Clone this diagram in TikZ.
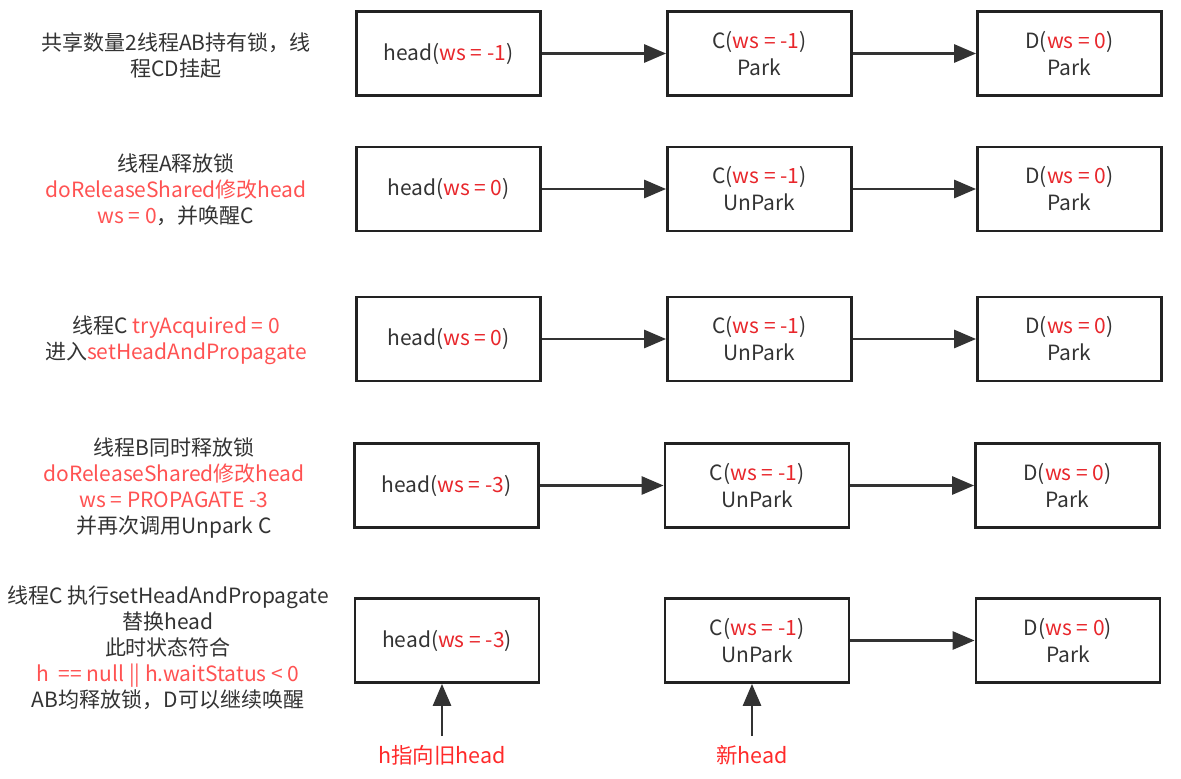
\documentclass[tikz,border=0pt]{standalone}
\usepackage{fontspec}
\setmainfont{Noto Sans CJK SC}
\usetikzlibrary{arrows.meta}
\definecolor{txt}{HTML}{333333}
\definecolor{bred}{HTML}{E8262B}
\definecolor{lred}{HTML}{FF5252}
\definecolor{labred}{HTML}{FF2A2A}
\definecolor{edge}{HTML}{222222}
\newcommand{\rr}[1]{\textcolor{bred}{#1}}
\newcommand{\lr}[1]{\textcolor{lred}{#1}}
\begin{document}
\begin{tikzpicture}[x=1pt,y=-1pt,
  nodebox/.style={draw=edge,line width=2.8pt,minimum width=184pt,minimum height=84pt,
    inner sep=0pt,align=center,text=txt,font=\fontsize{21}{27}\selectfont},
  lefttext/.style={align=center,text=txt,font=\fontsize{21}{26}\selectfont,inner sep=0pt},
  arr/.style={line width=2.8pt,draw=txt,-{Triangle[length=22pt,width=18pt]}},
  lab/.style={text=labred,font=\fontsize{21.5}{26}\selectfont,inner sep=0pt}]
\useasboundingbox (0,0) rectangle (1181,779);
% row 1
\node[lefttext] (l1) at (176,56) {共享数量2线程AB持有锁，线\\程CD挂起};
\node[nodebox] (a1) at (448.5,53.5) {head(\rr{ws = -1})};
\node[nodebox] (b1) at (759.5,53.5) {C(\rr{ws = -1})\\Park};
\node[nodebox] (c1) at (1069.5,53.5) {D(\rr{ws = 0})\\Park};
% row 2
\node[lefttext] (l2) at (176,190) {线程A释放锁\\\lr{doReleaseShared修改head}\\\lr{ws = 0}，并唤醒C};
\node[nodebox] (a2) at (448.5,189) {head(\rr{ws = 0})};
\node[nodebox] (b2) at (759.5,189) {C(\rr{ws = -1})\\UnPark};
\node[nodebox] (c2) at (1069.5,189) {D(\rr{ws = 0})\\Park};
% row 3
\node[lefttext] (l3) at (176,340) {线程C \lr{tryAcquired = 0}\\进入\lr{setHeadAndPropagate}};
\node[nodebox] (a3) at (448.5,339) {head(\rr{ws = 0})};
\node[nodebox] (b3) at (759.5,339) {C(\rr{ws = -1})\\UnPark};
\node[nodebox] (c3) at (1069.5,339) {D(\rr{ws = 0})\\Park};
% row 4
\node[lefttext] (l4) at (174,488) {线程B同时释放锁\\\lr{doReleaseShared修改head}\\\lr{ws = PROPAGATE -3}\\并再次调用Unpark C};
\node[nodebox] (a4) at (446.5,485.5) {head(\rr{ws = -3})};
\node[nodebox] (b4) at (757,485.5) {C(\rr{ws = -1})\\UnPark};
\node[nodebox] (c4) at (1067.5,485.5) {D(\rr{ws = 0})\\Park};
% row 5
\node[lefttext] (l5) at (168,648) {线程C 执行setHeadAndPropagate\\替换head\\此时状态符合\\\lr{h\ \ == null || h.waitStatus < 0}\\AB均释放锁，D可以继续唤醒};
\node[nodebox] (a5) at (447,640.5) {head(\rr{ws = -3})};
\node[nodebox] (b5) at (757,640.5) {C(\rr{ws = -1})\\UnPark};
\node[nodebox] (c5) at (1068,640.5) {D(\rr{ws = 0})\\Park};
\node[lab] (h1) at (442,755) {h指向旧head};
\node[lab] (h2) at (752,755) {新head};
\coordinate (p1) at (442,736);
\coordinate (p2) at (752,736);
% connectors
\foreach \r in {1,2,3,4}{
  \draw[arr] (a\r) -- (b\r);
  \draw[arr] (b\r) -- (c\r);
}
\draw[arr] (b5) -- (c5);
\draw[arr] (p1) -- (p1 |- a5.south);
\draw[arr] (p2) -- (p2 |- b5.south);
\end{tikzpicture}
\end{document}
